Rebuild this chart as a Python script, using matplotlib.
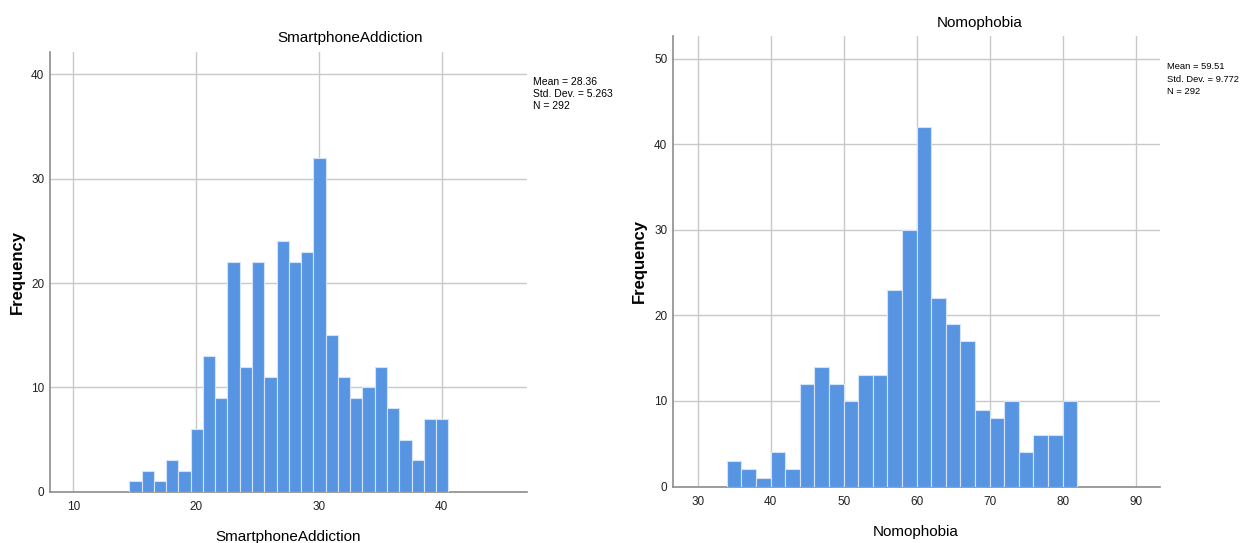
import numpy as np
import matplotlib
matplotlib.use("Agg")
import matplotlib.pyplot as plt

# histogram counts
sa_start = 14.55   # left edge of first bin
sa_width = 1.0
sa_counts = [1, 2, 1, 3, 2, 6, 13, 9, 22, 12, 22, 11, 24, 22, 23, 32,
             15, 11, 9, 10, 12, 8, 5, 3, 7, 7]
sa_stats = ["Mean = 28.36", "Std. Dev. = 5.263", "N = 292"]

nomo_start = 34.0
nomo_width = 2.0
nomo_counts = [3, 2, 1, 4, 2, 12, 14, 12, 10, 13, 13, 23, 30, 42, 22, 19,
               17, 9, 8, 10, 4, 6, 6, 10]
nomo_stats = ["Mean = 59.51", "Std. Dev. = 9.772", "N = 292"]

fam = ["Liberation Sans", "DejaVu Sans"]   # Arial-like metrics
bar_color = "#5795e3"
edge_color = "#d4e3f8"
grid_color = "#c9c9c9"
spine_color = "#8c8c8c"

W, H = 1242, 543
fig = plt.figure(figsize=(W / 100, H / 100), dpi=100)


def px_axes(left, top, right, bottom):
    return fig.add_axes([left / W, 1 - bottom / H, (right - left) / W, (bottom - top) / H])


def draw_hist(ax, start, width, counts, xlim, ylim, xticks, yticks, xlabel, ylab_x, xlab_y):
    edges = start + width * np.arange(len(counts))
    ax.bar(edges, counts, width=width, align="edge", color=bar_color,
           edgecolor=edge_color, linewidth=0.8, zorder=3)
    ax.set_xlim(*xlim)
    ax.set_ylim(*ylim)
    ax.set_xticks(xticks)
    ax.set_yticks(yticks)
    ax.grid(True, color=grid_color, linewidth=1.0, zorder=0)
    for s in ["top", "right"]:
        ax.spines[s].set_visible(False)
    for s in ["left", "bottom"]:
        ax.spines[s].set_color(spine_color)
        ax.spines[s].set_linewidth(1.2)
    ax.tick_params(length=0, labelsize=8.5, colors="#222222")
    ax.tick_params(axis="x", pad=7)
    ax.tick_params(axis="y", pad=4)
    for lab in ax.get_xticklabels() + ax.get_yticklabels():
        lab.set_family(fam)
    ax.set_xlabel(xlabel, family=fam, fontsize=11, va="center")
    ax.xaxis.set_label_coords(0.5, xlab_y)
    ax.set_ylabel("Frequency", family=fam, fontsize=12, fontweight="bold", va="center")
    ax.yaxis.set_label_coords(ylab_x, 0.5)


def stats_block(x, y0, step, lines, size):
    # shrink the block until its widest line fits inside the figure
    texts = [fig.text(x / W, 1 - (y0 + step * i) / H, line, family=fam, fontsize=size,
                      ha="left", va="center") for i, line in enumerate(lines)]
    renderer = fig.canvas.get_renderer()
    while size > 5:
        right = max(t.get_window_extent(renderer).x1 for t in texts)
        if right <= W - 1:
            break
        size -= 0.25
        for t in texts:
            t.set_fontsize(size)


# left panel: SmartphoneAddiction
ax1 = px_axes(49.8, 51.9, 527.1, 491.7)
draw_hist(ax1, sa_start, sa_width, sa_counts, (8.07, 46.97), (0, 42.16),
          [10, 20, 30, 40], [0, 10, 20, 30, 40], "SmartphoneAddiction", -0.067, -0.102)
fig.text(350 / W, 1 - 38 / H, "SmartphoneAddiction", family=fam, fontsize=11,
         ha="center", va="center")
stats_block(533, 82, 11.8, sa_stats, 7.5)

# right panel: Nomophobia
ax2 = px_axes(672.8, 36.4, 1159.5, 486.5)
draw_hist(ax2, nomo_start, nomo_width, nomo_counts, (26.59, 93.26), (0, 52.63),
          [30, 40, 50, 60, 70, 80, 90], [0, 10, 20, 30, 40, 50], "Nomophobia", -0.068, -0.1)
fig.text(980 / W, 1 - 22.5 / H, "Nomophobia", family=fam, fontsize=11,
         ha="center", va="center")
stats_block(1166.6, 66.5, 12.6, nomo_stats, 7.5)

fig.savefig("out.png", dpi=100)
